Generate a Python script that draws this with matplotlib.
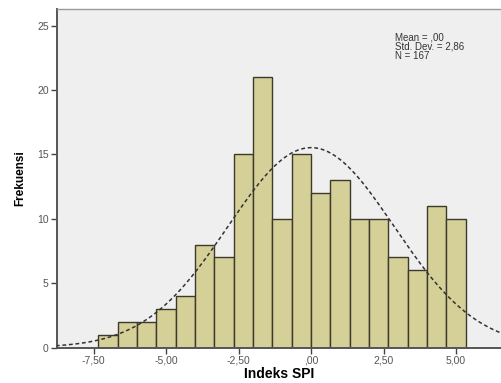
import matplotlib
matplotlib.use('Agg')
import matplotlib.pyplot as plt
import numpy as np

plt.rcParams['font.family'] = ['Liberation Sans', 'DejaVu Sans']

# histogram of SPI index (SPSS output)
bin_start = -22 / 3
bin_width = 2 / 3
counts = [1, 2, 2, 3, 4, 8, 7, 15, 21, 10, 15, 12, 13, 10, 10, 7, 6, 11, 10]
mean_val = 0.0
std_val = 2.86
n_obs = 167
xticks = [-7.5, -5.0, -2.5, 0.0, 2.5, 5.0]
xtick_labels = ['-7,50', '-5,00', '-2,50', ',00', '2,50', '5,00']
yticks = [0, 5, 10, 15, 20, 25]

fig = plt.figure(figsize=(5.01, 3.83), dpi=100)
ax = fig.add_axes([57 / 501, 1 - 347.5 / 383, 1 - 57 / 501, 338.5 / 383])
ax.set_facecolor('#efefef')

lefts = bin_start + bin_width * np.arange(len(counts))
ax.bar(lefts, counts, width=bin_width, align='edge',
       color='#d5cf98', edgecolor='#3c3a2c', linewidth=1.0, zorder=2)

# fitted normal curve
xs = np.linspace(-8.8, 6.6, 400)
ys = n_obs * bin_width / (std_val * np.sqrt(2 * np.pi)) * np.exp(-0.5 * ((xs - mean_val) / std_val) ** 2)
ax.plot(xs, ys, color='#333333', linestyle=(0, (2.5, 1.8)), linewidth=1.1, zorder=3)

ax.set_xlim(-8.76, 6.55)
ax.set_ylim(0, 26.3)
ax.set_xticks(xticks)
ax.set_xticklabels(xtick_labels)
ax.set_yticks(yticks)
ax.tick_params(axis='both', direction='out', length=4, width=1, color='#444444',
               labelsize=7.5, labelcolor='#555555', pad=2)

for side in ['left', 'bottom']:
    ax.spines[side].set_color('#555555')
    ax.spines[side].set_linewidth(1.4)
ax.spines['top'].set_color('#999999')
ax.spines['top'].set_linewidth(1.0)
ax.spines['right'].set_visible(False)

ax.set_xlabel('Indeks SPI', fontsize=10, fontweight='bold', labelpad=1)
ax.set_ylabel('Frekuensi', fontsize=8.5, fontweight='bold', labelpad=8,
              family=['Liberation Sans Narrow', 'Liberation Sans'])

ax.text(0.762, 0.932, 'Mean = ,00\nStd. Dev. = 2,86\nN = 167',
        transform=ax.transAxes, fontsize=7, color='#333333',
        va='top', ha='left', linespacing=0.92)

fig.savefig('out.png', dpi=100)
